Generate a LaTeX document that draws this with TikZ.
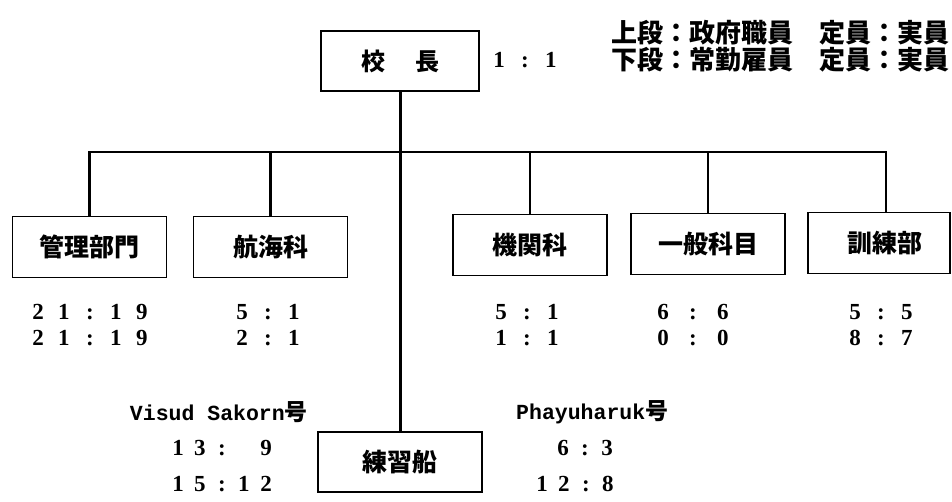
\documentclass[tikz,border=0pt]{standalone}
\usepackage{fontspec}
\newfontfamily\jp{Noto Sans CJK JP}
\newfontfamily\numf{Liberation Serif}
\newfontfamily\monof{Liberation Mono}
\newcommand\fwc[1]{\makebox[26pt]{#1}}
\newcommand\wwc[1]{\makebox[30pt]{#1}}
\newcommand\nwc[1]{\makebox[22pt]{#1}}
\begin{document}
\begin{tikzpicture}[x=1pt,y=-1pt,
  box/.style={draw, line width=1.8pt, minimum width=154pt, minimum height=61pt, inner sep=0pt,
    font=\jp\bfseries\fontsize{25}{25}\selectfont},
  conn/.style={line width=2.4pt},
  mainline/.style={line width=3pt},
  numtxt/.style={inner sep=0pt, font=\numf\bfseries\fontsize{23}{23}\selectfont},
  legtxt/.style={inner sep=0pt, font=\jp\bfseries\fontsize{26}{26}\selectfont},
  shiptxt/.style={inner sep=0pt, font=\monof\bfseries\fontsize{21.5}{21.5}\selectfont}]
\useasboundingbox (0,0) rectangle (952,502);
% head
\node[box, minimum width=158pt, minimum height=60pt, font=\jp\bfseries\fontsize{24}{24}\selectfont] (head) at (400,61) {校\hspace{30pt}長};
\node[numtxt] (ratio) at (525,60) {\fwc{1}\fwc{:}\fwc{1}};
\node[legtxt, anchor=east] (legA) at (950,33) {上段：政府職員\hspace{26pt}定員：実員};
\node[legtxt, anchor=east] (legB) at (950,60) {下段：常勤雇員\hspace{26pt}定員：実員};
% departments
\node[box] (kanri) at (89.5,247) {管理部門};
\node[box] (kokai) at (270.5,247) {航海科};
\node[box] (kikan) at (530,245) {機関科};
\node[box] (ippan) at (708,244) {一般科目};
\node[box, minimum width=142pt] (kunren) at (879,243) {\hspace*{12pt}訓練部};
% numbers
\node[numtxt] (kanriA) at (90,312) {\fwc{2}\fwc{1}\fwc{:}\fwc{1}\fwc{9}};
\node[numtxt] (kanriB) at (90,338) {\fwc{2}\fwc{1}\fwc{:}\fwc{1}\fwc{9}};
\node[numtxt] (kokaiA) at (268,312) {\fwc{5}\fwc{:}\fwc{1}};
\node[numtxt] (kokaiB) at (268,338) {\fwc{2}\fwc{:}\fwc{1}};
\node[numtxt] (kikanA) at (527,312) {\fwc{5}\fwc{:}\fwc{1}};
\node[numtxt] (kikanB) at (527,338) {\fwc{1}\fwc{:}\fwc{1}};
\node[numtxt] (ippanA) at (693,312) {\wwc{6}\wwc{:}\wwc{6}};
\node[numtxt] (ippanB) at (693,338) {\wwc{0}\wwc{:}\wwc{0}};
\node[numtxt] (kunrenA) at (881,312) {\fwc{5}\fwc{:}\fwc{5}};
\node[numtxt] (kunrenB) at (881,338) {\fwc{8}\fwc{:}\fwc{7}};
% training ship
\node[box, minimum width=164pt, minimum height=60pt] (ship) at (400,462) {練習船};
\node[shiptxt, anchor=east] (visud) at (308,412) {Visud Sakorn{\jp\fontsize{23}{23}\selectfont 号}};
\node[numtxt] (visudA) at (222,448) {\nwc{1}\nwc{3}\nwc{:}\nwc{}\nwc{9}};
\node[numtxt] (visudB) at (222,484) {\nwc{1}\nwc{5}\nwc{:}\nwc{1}\nwc{2}};
\node[shiptxt, anchor=west] (phayu) at (516,412) {Phayuharuk{\jp\fontsize{23}{23}\selectfont 号}};
\node[numtxt] (phayuA) at (585,448) {\nwc{6}\nwc{:}\nwc{3}};
\node[numtxt] (phayuB) at (575,484) {\nwc{1}\nwc{2}\nwc{:}\nwc{8}};
% connectors
\coordinate (bl) at (91,152);
\coordinate (br) at (886,152);
\draw[conn] (kanri.north) |- (br) -- (br |- kunren.north);
\draw[conn] (kokai.north) -- (kokai.north |- bl);
\draw[conn] (kikan.north) -- (kikan.north |- bl);
\draw[conn] (ippan.north) -- (ippan.north |- bl);
\draw[mainline] (head.south) -- (ship.north);
\end{tikzpicture}
\end{document}
